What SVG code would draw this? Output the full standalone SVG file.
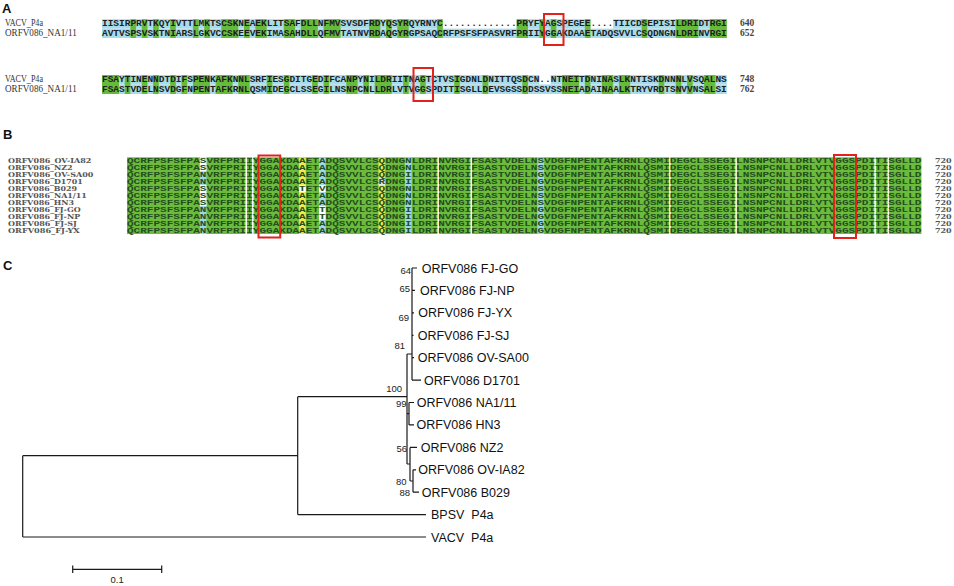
<svg xmlns="http://www.w3.org/2000/svg" width="954" height="586" viewBox="0 0 954 586">
<style>
.lbl{font-family:"Liberation Sans",Arial,sans-serif;font-weight:bold;font-size:13px;fill:#111}
.nmA{font-family:"Liberation Serif","Times New Roman",serif;font-size:9.5px;fill:#333}
.seqA{font-family:"Liberation Mono","Courier New",monospace;font-weight:bold;font-size:9.5px;fill:#1e1e1e}
.numA{font-family:"Liberation Serif","Times New Roman",serif;font-weight:bold;font-size:9.5px;fill:#444}
.gA{fill:#66bb3a}
.bA{fill:#a9dcea}
.nmB{font-family:"DejaVu Serif",serif;font-weight:bold;font-size:6.8px;fill:#555}
.seqB{font-family:"Liberation Mono","Courier New",monospace;font-weight:bold;font-size:6.8px;fill:#234f1e}
.gB{fill:#6cbb3c}
.bB{fill:#9dd6e4}
.yB{fill:#f2e84a}
.wB{fill:#ffffff}
.red{fill:none;stroke:#e3221c;stroke-width:2}
.leaf{font-family:"Liberation Sans",Arial,sans-serif;font-size:12.5px;fill:#111}
.bs{font-family:"Liberation Sans",Arial,sans-serif;font-size:9.5px;fill:#222;text-anchor:end}
.tree{fill:none;stroke:#1a1a1a;stroke-width:1.2}
</style>
<rect width="954" height="586" fill="#ffffff"/>

<!-- Panel A -->
<g id="panelA">
<text class="lbl" x="2" y="13.3">A</text>
<g id="A-block1">
<text class="nmA" x="5" y="26.3" textLength="38" lengthAdjust="spacingAndGlyphs">VACV_P4a</text>
<text class="nmA" x="5" y="36" textLength="71.7" lengthAdjust="spacingAndGlyphs">ORFV086_NA1/11</text>
<rect class="bA" x="102" y="19.2" width="340.8" height="9.4"/>
<rect class="bA" x="516.64" y="19.2" width="73.84" height="9.4"/>
<rect class="bA" x="613.2" y="19.2" width="113.6" height="9.4"/>
<rect class="bA" x="102" y="28.6" width="624.8" height="9.4"/>
<g class="gA">
<rect x="130.4" y="19.2" width="5.68" height="18.8"/>
<rect x="141.76" y="19.2" width="5.68" height="18.8"/>
<rect x="153.12" y="19.2" width="5.68" height="18.8"/>
<rect x="170.16" y="19.2" width="5.68" height="18.8"/>
<rect x="192.88" y="19.2" width="5.68" height="18.8"/>
<rect x="204.24" y="19.2" width="5.68" height="18.8"/>
<rect x="221.28" y="19.2" width="17.04" height="18.8"/>
<rect x="244" y="19.2" width="5.68" height="18.8"/>
<rect x="255.36" y="19.2" width="11.36" height="18.8"/>
<rect x="283.76" y="19.2" width="11.36" height="18.8"/>
<rect x="300.8" y="19.2" width="17.04" height="18.8"/>
<rect x="323.52" y="19.2" width="17.04" height="18.8"/>
<rect x="368.96" y="19.2" width="11.36" height="18.8"/>
<rect x="386" y="19.2" width="5.68" height="18.8"/>
<rect x="397.36" y="19.2" width="11.36" height="18.8"/>
<rect x="437.12" y="19.2" width="5.68" height="18.8"/>
<rect x="516.64" y="19.2" width="11.36" height="18.8"/>
<rect x="539.36" y="19.2" width="5.68" height="18.8"/>
<rect x="550.72" y="19.2" width="5.68" height="18.8"/>
<rect x="584.8" y="19.2" width="5.68" height="18.8"/>
<rect x="641.6" y="19.2" width="5.68" height="18.8"/>
<rect x="675.68" y="19.2" width="22.72" height="18.8"/>
<rect x="709.76" y="19.2" width="17.04" height="18.8"/>
</g>
<text class="seqA" x="102" y="26.3" textLength="624.8" lengthAdjust="spacing">IISIRPRVTKQYIVTTLMKTSCSKNEAEKLITSAFDLLNFMVSVSDFRDYQSYRQYRNYC.............PRYFYAGSPEGEE....TIICDSEPISILDRIDTRGI</text>
<text class="seqA" x="102" y="36" textLength="624.8" lengthAdjust="spacing">AVTVSPSVSKTNIARSLGKVCCSKEEVEKIMASAHDLLQFMVTATNVRDAQGYRGPSAQCRFPSFSFPASVRFPRIIYGGAKDAAETADQSVVLCSQDNGNLDRINVRGI</text>
<text class="numA" x="740" y="26.3">640</text>
<text class="numA" x="740" y="36">652</text>
<rect class="red" x="544" y="14" width="19.5" height="31"/>
</g>
<g id="A-block2">
<text class="nmA" x="5" y="82.3" textLength="38" lengthAdjust="spacingAndGlyphs">VACV_P4a</text>
<text class="nmA" x="5" y="92" textLength="71.7" lengthAdjust="spacingAndGlyphs">ORFV086_NA1/11</text>
<rect class="bA" x="102" y="75" width="437.36" height="9.5"/>
<rect class="bA" x="550.72" y="75" width="176.08" height="9.5"/>
<rect class="bA" x="102" y="84.5" width="624.8" height="9.5"/>
<g class="gA">
<rect x="102" y="75" width="17.04" height="19"/>
<rect x="124.72" y="75" width="5.68" height="19"/>
<rect x="141.76" y="75" width="5.68" height="19"/>
<rect x="153.12" y="75" width="5.68" height="19"/>
<rect x="170.16" y="75" width="5.68" height="19"/>
<rect x="181.52" y="75" width="5.68" height="19"/>
<rect x="192.88" y="75" width="17.04" height="19"/>
<rect x="215.6" y="75" width="17.04" height="19"/>
<rect x="238.32" y="75" width="11.36" height="19"/>
<rect x="266.72" y="75" width="5.68" height="19"/>
<rect x="283.76" y="75" width="5.68" height="19"/>
<rect x="312.16" y="75" width="5.68" height="19"/>
<rect x="323.52" y="75" width="5.68" height="19"/>
<rect x="346.24" y="75" width="11.36" height="19"/>
<rect x="363.28" y="75" width="5.68" height="19"/>
<rect x="374.64" y="75" width="17.04" height="19"/>
<rect x="403.04" y="75" width="5.68" height="19"/>
<rect x="420.08" y="75" width="5.68" height="19"/>
<rect x="454.16" y="75" width="5.68" height="19"/>
<rect x="482.56" y="75" width="5.68" height="19"/>
<rect x="522.32" y="75" width="5.68" height="19"/>
<rect x="562.08" y="75" width="17.04" height="19"/>
<rect x="584.8" y="75" width="5.68" height="19"/>
<rect x="601.84" y="75" width="11.36" height="19"/>
<rect x="618.88" y="75" width="11.36" height="19"/>
<rect x="658.64" y="75" width="5.68" height="19"/>
<rect x="675.68" y="75" width="5.68" height="19"/>
<rect x="687.04" y="75" width="5.68" height="19"/>
<rect x="704.08" y="75" width="11.36" height="19"/>
</g>
<text class="seqA" x="102" y="82.3" textLength="624.8" lengthAdjust="spacing">FSAYTINENNDTDIFSPENKAFKNNLSRFIESGDITGEDIFCANPYNILDRIITNAGTCTVSIGDNLDNITTQSDCN..NTNEITDNINASLKNTISKDNNNLVSQALNS</text>
<text class="seqA" x="102" y="92" textLength="624.8" lengthAdjust="spacing">FSASTVDELNSVDGFNPENTAFKRNLQSMIDEGCLSSEGILNSNPCNLLDRLVTVGGSPDITISGLLDEVSGSSDDSSVSSNEIADAINAALKTRYVRDTSNVVNSALSI</text>
<text class="numA" x="740" y="82.3">748</text>
<text class="numA" x="740" y="92">762</text>
<rect class="red" x="413.5" y="68" width="19.5" height="33"/>
</g>
</g>

<!-- Panel B -->
<g id="panelB">
<text class="lbl" x="3" y="139">B</text>
<g id="B-names">
<text class="nmB" x="8" y="163.4" textLength="83.4" lengthAdjust="spacingAndGlyphs">ORFV086_OV-IA82</text>
<text class="nmB" x="8" y="170.37" textLength="64.6" lengthAdjust="spacingAndGlyphs">ORFV086_NZ2</text>
<text class="nmB" x="8" y="177.34" textLength="85.4" lengthAdjust="spacingAndGlyphs">ORFV086_OV-SA00</text>
<text class="nmB" x="8" y="184.31" textLength="74.9" lengthAdjust="spacingAndGlyphs">ORFV086_D1701</text>
<text class="nmB" x="8" y="191.28" textLength="69.1" lengthAdjust="spacingAndGlyphs">ORFV086_B029</text>
<text class="nmB" x="8" y="198.25" textLength="78.8" lengthAdjust="spacingAndGlyphs">ORFV086_NA1/11</text>
<text class="nmB" x="8" y="205.22" textLength="66" lengthAdjust="spacingAndGlyphs">ORFV086_HN3</text>
<text class="nmB" x="8" y="212.19" textLength="72.7" lengthAdjust="spacingAndGlyphs">ORFV086_FJ-GO</text>
<text class="nmB" x="8" y="219.16" textLength="72.2" lengthAdjust="spacingAndGlyphs">ORFV086_FJ-NP</text>
<text class="nmB" x="8" y="226.13" textLength="68.9" lengthAdjust="spacingAndGlyphs">ORFV086_FJ-SJ</text>
<text class="nmB" x="8" y="233.1" textLength="71.6" lengthAdjust="spacingAndGlyphs">ORFV086_FJ-YX</text>
</g>
<g id="B-background">
<rect class="gB" x="127" y="157.3" width="794.4" height="76.7"/>
<rect class="bB" x="199.82" y="157.3" width="6.62" height="76.7"/>
<rect class="wB" x="199.82" y="157.3" width="6.62" height="13.94"/>
<rect class="wB" x="199.82" y="185.18" width="6.62" height="20.91"/>
<rect class="yB" x="299.12" y="157.3" width="6.62" height="76.7"/>
<rect class="wB" x="299.12" y="185.18" width="6.62" height="6.97"/>
<rect class="bB" x="318.98" y="157.3" width="6.62" height="76.7"/>
<rect class="wB" x="318.98" y="185.18" width="6.62" height="6.97"/>
<rect class="wB" x="318.98" y="206.09" width="6.62" height="13.94"/>
<rect class="yB" x="378.56" y="157.3" width="6.62" height="76.7"/>
<rect x="378.56" y="178.21" width="6.62" height="6.97" fill="#e8e8e8"/>
<rect class="bB" x="405.04" y="157.3" width="6.62" height="76.7"/>
<rect class="bB" x="537.44" y="157.3" width="6.62" height="76.7"/>
<g class="wB">
<rect x="245.4" y="157.3" width="1.6" height="76.7"/>
<rect x="252" y="157.3" width="1.6" height="76.7"/>
<rect x="437.4" y="157.3" width="1.6" height="76.7"/>
<rect x="470.5" y="157.3" width="1.6" height="76.7"/>
<rect x="669.1" y="157.3" width="1.6" height="76.7"/>
<rect x="735.3" y="157.3" width="1.6" height="76.7"/>
<rect x="874.3" y="157.3" width="1.6" height="76.7"/>
<rect x="887.5" y="157.3" width="1.6" height="76.7"/>
</g>
</g>
<g id="B-seqs">
<text class="seqB" x="127" y="163.4" textLength="794.4" lengthAdjust="spacingAndGlyphs">QCRFPSFSFPASVRFPRIIYGGAKDAAETADQSVVLCSQDNGNLDRINVRGIFSASTVDELNSVDGFNPENTAFKRNLQSMIDEGCLSSEGILNSNPCNLLDRLVTVGGSPDITISGLLD</text>
<text class="seqB" x="127" y="170.37" textLength="794.4" lengthAdjust="spacingAndGlyphs">QCRFPSFSFPASVRFPRIIYGGAKDAAETADQSVVLCSQDNGNLDRINVRGIFSASTVDELNSVDGFNPENTAFKRNLQSMIDEGCLSSEGILNSNPCNLLDRLVTVGGSPDITISGLLD</text>
<text class="seqB" x="127" y="177.34" textLength="794.4" lengthAdjust="spacingAndGlyphs">QCRFPSFSFPANVRFPRIIYGGAKDAAETADQSVVLCSQDNGILDRINVRGIFSASTVDELNGVDGFNPENTAFKRNLQSMIDEGCLSSEGILNSNPCNLLDRLVTVGGSPDITISGLLD</text>
<text class="seqB" x="127" y="184.31" textLength="794.4" lengthAdjust="spacingAndGlyphs">QCRFPSFSFPANVRFPRIIYGGAKDAAETADQSVVLCSRDNGILDRINVRGIFSASTVDELNGVDGFNPENTAFKRNLQSMIDEGCLSSEGILNSNPCNLLDRLVTVGGSPDITISGLLD</text>
<text class="seqB" x="127" y="191.28" textLength="794.4" lengthAdjust="spacingAndGlyphs">QCRFPSFSFPASVRFPRIIYGGAKDATETVDQSVVLCSQDNGNLDRINVRGIFSASTVDELNSVDGFNPENTAFKRNLQSMIDEGCLSSEGILNSNPCNLLDRLVTVGGSPDITISGLLD</text>
<text class="seqB" x="127" y="198.25" textLength="794.4" lengthAdjust="spacingAndGlyphs">QCRFPSFSFPASVRFPRIIYGGAKDAAETADQSVVLCSQDNGNLDRINVRGIFSASTVDELNSVDGFNPENTAFKRNLQSMIDEGCLSSEGILNSNPCNLLDRLVTVGGSPDITISGLLD</text>
<text class="seqB" x="127" y="205.22" textLength="794.4" lengthAdjust="spacingAndGlyphs">QCRFPSFSFPASVRFPRIIYGGAKDAAETADQSVVLCSQDNGNLDRINVRGIFSASTVDELNSVDGFNPENTAFKRNLQSMIDEGCLSSEGILNSNPCNLLDRLVTVGGSPDITISGLLD</text>
<text class="seqB" x="127" y="212.19" textLength="794.4" lengthAdjust="spacingAndGlyphs">QCRFPSFSFPANVRFPRIIYGGAKDAAETTDQSVVLCSQDNGILDRINVRGIFSASTVDELNGVDGFNPENTAFKRNLQSMIDEGCLSSEGILNSNPCNLLDRLVTVGGSPDITISGLLD</text>
<text class="seqB" x="127" y="219.16" textLength="794.4" lengthAdjust="spacingAndGlyphs">QCRFPSFSFPANVRFPRIIYGGAKDAAETTDQSVVLCSQDNGILDRINVRGIFSASTVDELNGVDGFNPENTAFKRNLQSMIDEGCLSSEGILNSNPCNLLDRLVTVGGSPDITISGLLD</text>
<text class="seqB" x="127" y="226.13" textLength="794.4" lengthAdjust="spacingAndGlyphs">QCRFPSFSFPANVRFPRIIYGGAKDAAETADQSVVLCSQDNGILDRINVRGIFSASTVDELNGVDGFNPENTAFKRNLQSMIDEGCLSSEGILNSNPCNLLDRLVTVGGSPDITISGLLD</text>
<text class="seqB" x="127" y="233.1" textLength="794.4" lengthAdjust="spacingAndGlyphs">QCRFPSFSFPANVRFPRIIYGGAKDAAETADQSVVLCSQDNGILDRINVRGIFSASTVDELNGVDGFNPENTAFKRNLQSMIDEGCLSSEGILNSNPCNLLDRLVTVGGSPDITISGLLD</text>
</g>
<g id="B-nums" class="nmB">
<text x="935" y="163.4" textLength="16.7" lengthAdjust="spacingAndGlyphs">720</text>
<text x="935" y="170.37" textLength="16.7" lengthAdjust="spacingAndGlyphs">720</text>
<text x="935" y="177.34" textLength="16.7" lengthAdjust="spacingAndGlyphs">720</text>
<text x="935" y="184.31" textLength="16.7" lengthAdjust="spacingAndGlyphs">720</text>
<text x="935" y="191.28" textLength="16.7" lengthAdjust="spacingAndGlyphs">720</text>
<text x="935" y="198.25" textLength="16.7" lengthAdjust="spacingAndGlyphs">720</text>
<text x="935" y="205.22" textLength="16.7" lengthAdjust="spacingAndGlyphs">720</text>
<text x="935" y="212.19" textLength="16.7" lengthAdjust="spacingAndGlyphs">720</text>
<text x="935" y="219.16" textLength="16.7" lengthAdjust="spacingAndGlyphs">720</text>
<text x="935" y="226.13" textLength="16.7" lengthAdjust="spacingAndGlyphs">720</text>
<text x="935" y="233.1" textLength="16.7" lengthAdjust="spacingAndGlyphs">720</text>
</g>
<rect class="red" x="258.5" y="155.5" width="21.7" height="82"/>
<rect class="red" x="834" y="155" width="22" height="83"/>
</g>

<!-- Panel C -->
<text class="lbl" x="3" y="270">C</text>
<g id="connectors">
<path class="tree" d="M22.7,455.7 V537 M22.7,455.7 H297.7 M22.7,537 H426 M297.7,396.7 V514.6 M297.7,514.6 H426 M297.7,396.7 H407 M407,354 V464 M407,354 H412 M412,268 V380.1 M412,268 H417 M412,290.4 H415 M412,312.8 H414 M412,335.3 H413.5 M412,357.7 H414 M412,380.1 H421 M407,413.7 H409 M409,402.5 V424.9 M409,402.5 H414 M409,424.9 H414 M407,464 H410 M410,447.4 V481 M410,447.4 H417 M410,481 H413 M413,469.8 V492.2 M413,469.8 H416 M413,492.2 H419"/>
</g>
<g id="scale">
<path class="tree" d="M72.7,569.3 H161.7 M72.7,565.5 V573 M161.7,565.5 V573"/>
<text class="bs" x="117.2" y="583" style="text-anchor:middle">0.1</text>
</g>
<g id="bootstrap">
<text class="bs" x="411" y="274">64</text>
<text class="bs" x="410" y="292">65</text>
<text class="bs" x="409" y="321">69</text>
<text class="bs" x="405" y="349">81</text>
<text class="bs" x="402" y="392">100</text>
<text class="bs" x="406.5" y="407">99</text>
<text class="bs" x="407" y="451.5">56</text>
<text class="bs" x="406.5" y="484.5">80</text>
<text class="bs" x="410" y="496">88</text>
</g>
<g id="leaf-FJ-GO"><text class="leaf" x="421.7" y="272.5">ORFV086 FJ-GO</text></g>
<g id="leaf-FJ-NP"><text class="leaf" x="420" y="294.9">ORFV086 FJ-NP</text></g>
<g id="leaf-FJ-YX"><text class="leaf" x="418.3" y="317.3">ORFV086 FJ-YX</text></g>
<g id="leaf-FJ-SJ"><text class="leaf" x="417.7" y="339.8">ORFV086 FJ-SJ</text></g>
<g id="leaf-OV-SA00"><text class="leaf" x="417.7" y="362.2">ORFV086 OV-SA00</text></g>
<g id="leaf-D1701"><text class="leaf" x="424" y="384.6">ORFV086 D1701</text></g>
<g id="leaf-NA1-11"><text class="leaf" x="416.7" y="407">ORFV086 NA1/11</text></g>
<g id="leaf-HN3"><text class="leaf" x="416.5" y="429.4">ORFV086 HN3</text></g>
<g id="leaf-NZ2"><text class="leaf" x="420.7" y="451.9">ORFV086 NZ2</text></g>
<g id="leaf-OV-IA82"><text class="leaf" x="418.3" y="474.3">ORFV086 OV-IA82</text></g>
<g id="leaf-B029"><text class="leaf" x="421.7" y="496.7">ORFV086 B029</text></g>
<g id="leaf-BPSV"><text class="leaf" x="431" y="519.1" xml:space="preserve">BPSV  P4a</text></g>
<g id="leaf-VACV"><text class="leaf" x="431" y="541.5" xml:space="preserve">VACV  P4a</text></g>
</svg>
